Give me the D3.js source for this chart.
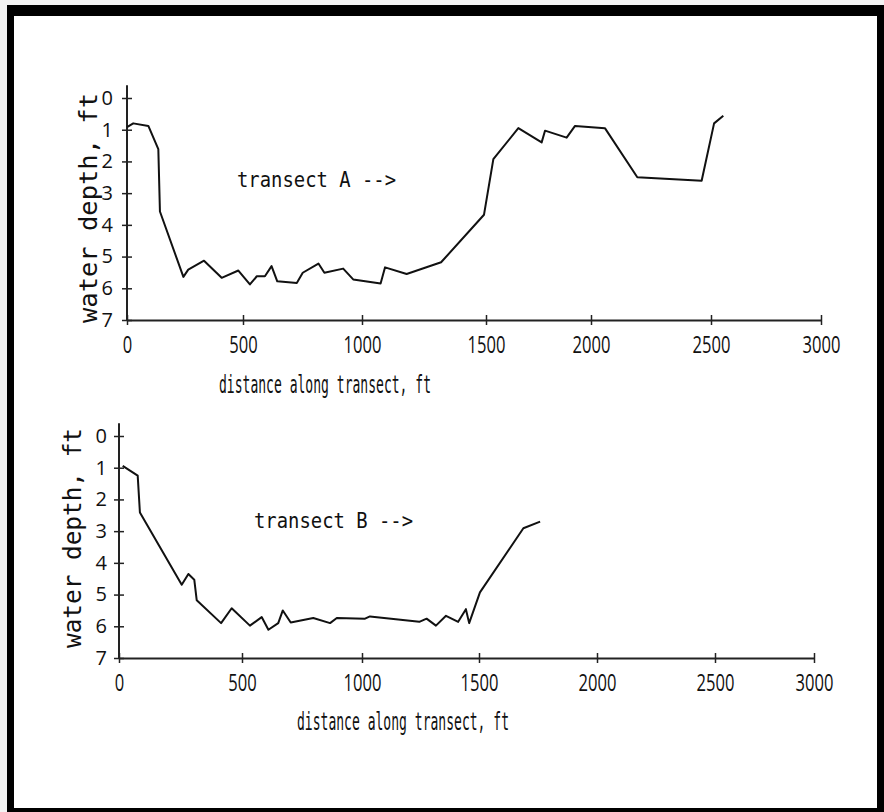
<!DOCTYPE html>
<html>
  <head>
    <meta charset="utf-8">
    <title>water depth along transects</title>
    <style>
      html, body { margin: 0; padding: 0; background: #f3f3f3; }
      svg { display: block; }
    </style>
  </head>
  <body>
    <svg id="chart" width="884" height="812"></svg>
    <script src="https://d3js.org/d3.v7.min.js"></script>
    <script>
      // transect A: distance along transect (ft) and water depth (ft)
      const distA  = [0, 27, 92, 135, 142, 243, 264, 332, 408, 480, 529, 558, 592, 620, 644, 726, 751, 817, 842, 921,
                      963, 1075, 1093, 1180, 1319, 1492, 1535, 1654, 1765, 1781, 1884, 1924, 2058, 2193, 2461, 2514, 2556]
      const depthA = [0.92, 0.8, 0.88, 1.61, 3.58, 5.64, 5.41, 5.13, 5.67, 5.44, 5.88, 5.62, 5.62, 5.3, 5.78, 5.83, 5.51, 5.22, 5.51, 5.38,
                      5.72, 5.85, 5.34, 5.55, 5.18, 3.68, 1.93, 0.95, 1.4, 1.03, 1.25, 0.88, 0.95, 2.5, 2.61, 0.8, 0.56]

      // transect B
      const distB  = [15, 76, 85, 255, 282, 306, 316, 415, 458, 533, 582, 610, 651, 670, 703, 797, 867, 895, 1013, 1034,
                      1245, 1276, 1316, 1359, 1411, 1444, 1458, 1504, 1688, 1759]
      const depthB = [0.94, 1.25, 2.41, 4.69, 4.35, 4.53, 5.18, 5.9, 5.43, 5.98, 5.71, 6.11, 5.9, 5.5, 5.88, 5.74, 5.9, 5.74, 5.76, 5.69,
                      5.86, 5.76, 5.98, 5.67, 5.86, 5.46, 5.9, 4.93, 2.91, 2.7]

      const xTicks = [0, 500, 1000, 1500, 2000, 2500, 3000]
      const yTicks = [0, 1, 2, 3, 4, 5, 6, 7]
      const xTitle = 'distance along transect, ft'
      const yTitle = 'water depth, ft'

      const svg = d3.select('#chart')
      const mono = "'DejaVu Sans Mono', monospace"
      const sans = "'Open Sans', 'DejaVu Sans', sans-serif"
      const fmt = d3.format('d')

      // frame
      svg.append('rect').attr('x', 7).attr('y', 5).attr('width', 877).attr('height', 807).attr('fill', '#000')
      svg.append('rect').attr('x', 14).attr('y', 16).attr('width', 863).attr('height', 792).attr('fill', '#fff')

      function panel(dist, depth, name, p) {
        // the hand drawn axis has slightly uneven tick spacing, so map every tick
        const x = d3.scaleLinear().domain(xTicks).range(p.xRange)
        const y = d3.scaleLinear().domain([0, 7]).range(p.yRange)
        const g = svg.append('g')

        // x axis, ticks cross the line
        const gx = g.append('g')
          .attr('transform', `translate(0,${ y(7) })`)
          .call(d3.axisBottom(x).tickValues(xTicks).tickFormat(fmt).tickSize(5).tickSizeOuter(0).tickPadding(12))
        gx.select('.domain').attr('stroke', '#222').attr('stroke-width', 2)
        gx.selectAll('.tick line').attr('y1', -5).attr('stroke', '#222').attr('stroke-width', 1.5)
        gx.selectAll('.tick text')
          .attr('font-family', sans).attr('font-size', 23).attr('fill', '#111')
          .attr('transform', 'scale(0.72,1)')

        // y axis, depth grows downwards
        const gy = g.append('g')
          .attr('transform', `translate(${ x(0) },0)`)
          .call(d3.axisLeft(y).tickValues(yTicks).tickFormat(fmt).tickSize(5).tickPadding(p.yPad))
        gy.select('.domain').remove()
        gy.append('line')
          .attr('y1', y(-0.4)).attr('y2', y(7))
          .attr('stroke', '#222').attr('stroke-width', 2)
        gy.selectAll('.tick line').attr('x1', 5).attr('stroke', '#222').attr('stroke-width', 1.5)
        gy.selectAll('.tick text')
          .attr('font-family', sans).attr('font-size', 20).attr('fill', '#111')

        // profile line
        const pts = d3.zip(dist, depth)
        g.append('path')
          .datum(pts)
          .attr('d', d3.line().x(d => x(d[0])).y(d => y(d[1])))
          .attr('fill', 'none')
          .attr('stroke', '#111')
          .attr('stroke-width', 2)
          .attr('stroke-linejoin', 'round')

        g.append('text')
          .attr('x', p.label[0]).attr('y', p.label[1])
          .attr('font-family', mono).attr('font-size', 21).attr('fill', '#111')
          .attr('textLength', 159).attr('lengthAdjust', 'spacingAndGlyphs')
          .text(name + ' -->')

        g.append('text')
          .attr('x', p.xTitle[0]).attr('y', p.xTitle[1])
          .attr('font-family', mono).attr('font-size', 25).attr('fill', '#111')
          .attr('textLength', 212).attr('lengthAdjust', 'spacingAndGlyphs')
          .text(xTitle)

        g.append('text')
          .attr('transform', `translate(${ p.yTitle[0] },${ p.yTitle[1] }) rotate(-90)`)
          .attr('text-anchor', 'middle')
          .attr('font-family', mono).attr('font-size', 24).attr('fill', '#111')
          .attr('textLength', p.yTitle[2]).attr('lengthAdjust', 'spacingAndGlyphs')
          .text(yTitle)
      }

      panel(distA, depthA, 'transect A', {
        xRange: [127, 243, 362, 486, 591, 711, 821],
        yRange: [98, 320],
        yPad: 9,
        label: [237, 187],
        xTitle: [219, 393],
        yTitle: [97, 208, 230]
      })

      panel(distB, depthB, 'transect B', {
        xRange: [119, 242, 362, 479, 597, 715, 814],
        yRange: [436, 658],
        yPad: 7,
        label: [254, 528],
        xTitle: [297, 730],
        yTitle: [81, 538, 220]
      })
    </script>
  </body>
</html>
